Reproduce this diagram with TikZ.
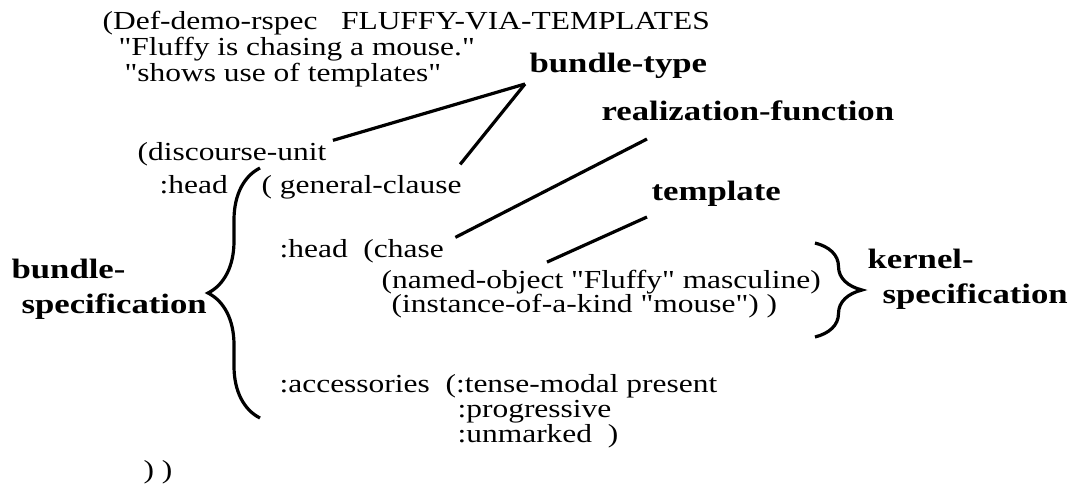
\documentclass[tikz,border=0pt]{standalone}
\usepackage{fontspec}
\setmainfont{Liberation Serif}[FakeStretch=1.21,Ligatures=TeXOff]
\newfontfamily\tagfont{Liberation Serif}[FakeStretch=1.24,Ligatures=TeXOff]
\usepackage{tikz}
\usetikzlibrary{decorations.pathreplacing}

\begin{document}
\begin{tikzpicture}[x=1pt,y=-1pt,line width=3.2pt,
    code/.style={anchor=base west,inner sep=0pt,font=\fontsize{26}{27}\selectfont},
    tag/.style={anchor=base west,inner sep=0pt,font=\fontsize{28}{30}\tagfont\bfseries},
    curly/.style={decorate,decoration={brace,amplitude=#1}}]
    \useasboundingbox (0,0) rectangle (1085,488);
    % the rspec text
    \node[code] (def) at (101,29) {(Def-demo-rspec\ \ \ FLUFFY-VIA-TEMPLATES};
    \node[code] (fl) at (117,55) {"Fluffy is chasing a mouse."};
    \node[code] (sh) at (123,81) {"shows use of templates"};
    \node[code] (du) at (136,160) {(discourse-unit};
    \node[code] (hd1) at (158,193) {:head};
    \node[code] (gc) at (260,193) {( general-clause};
    \node[code] (hd2) at (278,257) {:head\ \ (chase};
    \node[code] (no) at (380,288) {(named-object "Fluffy" masculine)};
    \node[code] (ik) at (390,312) {(instance-of-a-kind "mouse") )};
    \node[code] (ac) at (278,392) {:accessories\ \ (:tense-modal present};
    \node[code] (pr) at (456,417) {:progressive};
    \node[code] (um) at (456,442) {:unmarked\ \ )};
    \node[code] (cl) at (142,478) {) )};
    % labels
    \node[tag] (bt) at (528,72) {bundle-type};
    \node[tag] (rf) at (600,120) {realization-function};
    \node[tag] (tp) at (650,200) {template};
    \node[tag] (ks1) at (866,268) {kernel-};
    \node[tag] (ks2) at (881,303) {specification};
    \node[tag] (bs1) at (10,278) {bundle-};
    \node[tag] (bs2) at (20,313) {specification};
    \coordinate (btv) at ([shift={(-3,12)}]bt.base west);
    \draw[-] ([xshift=5pt]du.north east) to (btv);
    \draw[-] ([shift={(-3,-9)}]gc.north east) to (btv);
    \draw[-] ([xshift=10pt]hd2.north east) to ([shift={(47,19)}]rf.base west);
    \draw[-] ([shift={(167,-6)}]no.north west) to ([shift={(-3,17)}]tp.base west);
    % braces
    \draw[curly=52pt] (260,418) -- (260,168);
    \draw[curly=47pt] (815,243) -- (815,337);
\end{tikzpicture}
\end{document}
